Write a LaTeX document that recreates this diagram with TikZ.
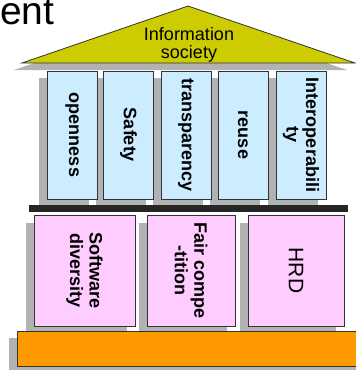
\documentclass[tikz,border=0pt]{standalone}
\usepackage{fontspec}
\setmainfont{Liberation Sans}
\definecolor{roofyellow}{HTML}{CCCC00}
\definecolor{pillarblue}{HTML}{CCECFF}
\definecolor{boxpink}{HTML}{FFCCFF}
\definecolor{baseorange}{HTML}{FF9900}
\definecolor{shadowgray}{HTML}{B2B2B2}
\definecolor{edgegray}{HTML}{333333}
\begin{document}
\begin{tikzpicture}[x=1pt,y=-1pt,
  shadowfill/.style={fill=shadowgray,draw=none},
  pillarbox/.style={draw=edgegray,line width=0.8pt,fill=pillarblue,minimum width=50pt,minimum height=128pt,inner sep=0pt},
  pinkbox/.style={draw=edgegray,line width=0.8pt,fill=boxpink,minimum height=111pt,inner sep=0pt},
  label/.style={rotate=-90,inner sep=0pt,align=center,font=\bfseries\fontsize{18}{19.5}\selectfont},
  plainlabel/.style={inner sep=0pt,align=center,font=\fontsize{18}{18}\selectfont}]
\clip (0,0) rectangle (356,370);
\useasboundingbox (0,0) rectangle (356,370);
% title fragment
\node[anchor=base west,inner sep=0pt,font=\fontsize{39}{39}\selectfont] (title) at (0,24) {ent};
% roof shadow and roof
\fill[shadowfill] (14,70) -- (180,13) -- (347,70) -- cycle;
\draw[edgegray,line width=0.8pt,fill=roofyellow] (22,63) -- (188,6) -- (355,63) -- cycle;
\node[plainlabel] (roof) at (189,44.4) {Information\\society};
% pillar shadows
\foreach \cx in {72,128.5,186,243,301}{
  \fill[shadowfill] (\cx-25-8,71+7) rectangle (\cx+25-8,199+7);
}
% pillars
\node[pillarbox] (p1) at (72,135) {};
\node[pillarbox] (p2) at (128.5,135) {};
\node[pillarbox] (p3) at (186,135) {};
\node[pillarbox] (p4) at (243,135) {};
\node[pillarbox] (p5) at (301,135) {};
\node[label] (t1) at (p1) {openness};
\node[label] (t2) at (p2) {Safety};
\node[label] (t3) at (p3) {transparency};
\node[label] (t4) at (p4) {reuse};
\node[label] (t5) at (p5) {Interoperabili\\ty};
% beam
\fill[black!85] (29,205) rectangle (348,212);
% pink box shadows
\fill[shadowfill] (34-8,215+8) rectangle (135-8,326+8);
\fill[shadowfill] (147-8,215+8) rectangle (235-8,326+8);
\fill[shadowfill] (248-8,215+8) rectangle (344-8,326+8);
% pink boxes
\node[pinkbox,minimum width=101pt] (b1) at (84.5,270.5) {};
\node[pinkbox,minimum width=88pt] (b2) at (191,270.5) {};
\node[pinkbox,minimum width=96pt] (b3) at (296,270.5) {};
\node[label] (s1) at (b1) {Software\\diversity};
\node[label] (s2) at (b2) {Fair compe\\-tition};
\node[label,font=\fontsize{21}{22}\selectfont] (s3) at (b3) {HRD};
% base
\fill[shadowfill] (17-8,331+7) rectangle (370,366+7);
\draw[edgegray,line width=0.8pt,fill=baseorange] (17,331) rectangle (370,366);
\end{tikzpicture}
\end{document}
